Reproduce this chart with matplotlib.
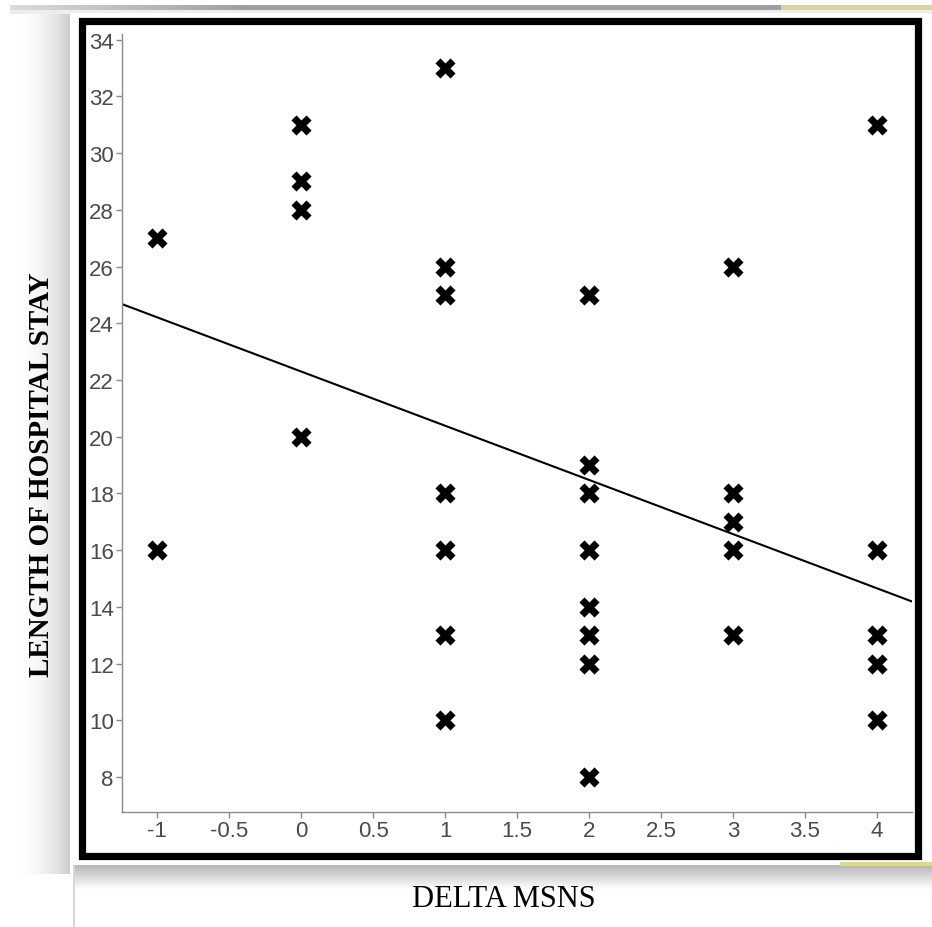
# scatter of hospital stay vs delta MSNS, with fitted trend line

import numpy as np
import matplotlib
matplotlib.use("Agg")
import matplotlib.pyplot as plt
from matplotlib.patches import Rectangle


# data
delta_msns = [-1, -1,
              0, 0, 0, 0,
              1, 1, 1, 1, 1, 1, 1,
              2, 2, 2, 2, 2, 2, 2, 2,
              3, 3, 3, 3, 3,
              4, 4, 4, 4, 4]
stay_days = [27, 16,
             31, 29, 28, 20,
             33, 26, 25, 18, 16, 13, 10,
             25, 19, 18, 16, 14, 13, 12, 8,
             26, 18, 17, 16, 13,
             31, 16, 13, 12, 10]
# trend line as drawn in the picture (slightly steeper than a plain OLS on the points above)
fit_slope = -1.91
fit_intercept = 22.30
x_ticks = [-1, -0.5, 0, 0.5, 1, 1.5, 2, 2.5, 3, 3.5, 4]
x_ticklabels = ["-1", "-0.5", "0", "0.5", "1", "1.5", "2", "2.5", "3", "3.5", "4"]
y_ticks = list(range(8, 35, 2))

W, H = 932, 928
fig = plt.figure(figsize=(W/100, H/100), dpi=100)

#########################################################
# page background: shadows around the framed plot
bg = np.ones((H, W, 3))
cols = np.arange(W)
# left shadow
ramp = np.clip((cols - 15) / 55.0, 0, 1) ** 2
for c in range(15, 70):
    bg[12:875, c, :] = 1 - 0.2 * ramp[c]
# top grey bar, yellowish on the right
for c in range(10, W):
    shade = 0.62 + 0.25 * max(0, 1 - c / 250.0)
    if c > 780:
        bg[6:11, c, :] = [0.84, 0.84, 0.6]
    else:
        bg[6:11, c, :] = shade
bg[11:15, 10:, :] = 0.93
# white panel behind the frame
bg[14:866, 70:926, :] = 1.0
# shadow under the frame
for r in range(866, 890):
    bg[r, 74:, :] = 0.72 + 0.28 * (r - 866) / 24.0
bg[866:, 73:75, :] = 0.85
bg[863:867, 840:, :] = [0.86, 0.86, 0.5]

ax_bg = fig.add_axes([0, 0, 1, 1])
ax_bg.imshow(bg, extent=(0, W, H, 0), aspect="auto", interpolation="bilinear")
ax_bg.set_xlim(0, W)
ax_bg.set_ylim(H, 0)
ax_bg.axis("off")
ax_bg.add_patch(Rectangle((82, 21.5), 918 - 82, 857 - 21.5,
                          fill=False, ec="black", lw=5.2))

#########################################################
# the scatter plot itself
ax = fig.add_axes([122/W, 1 - 813/H, (912 - 122)/W, (813 - 35)/H])
ax.set_facecolor("none")
ax.scatter(delta_msns, stay_days, marker="X", s=210, c="black",
           linewidths=0, zorder=3)

# trend line across the whole x range
xl = np.array([-1.245, 4.245])
ax.plot(xl, fit_intercept + fit_slope*xl, color="black", lw=1.5, zorder=2)

ax.set_xlim(-1.245, 4.245)
ax.set_ylim(6.77, 34.2)
ax.set_xticks(x_ticks)
ax.set_xticklabels(x_ticklabels)
ax.set_yticks(y_ticks)
for s in ["top", "right"]:
    ax.spines[s].set_visible(False)
for s in ["left", "bottom"]:
    ax.spines[s].set_color("#8a8a8a")
    ax.spines[s].set_linewidth(1.0)
ax.tick_params(colors="#8a8a8a", labelcolor="#4a4a4a", length=4, width=1,
               labelsize=16, pad=2)
for lab in ax.get_xticklabels() + ax.get_yticklabels():
    lab.set_family(["Liberation Sans Narrow", "Liberation Sans", "DejaVu Sans"])

# axis titles sit outside the frame
fig.text(42/W, 1 - 475/H, "LENGTH OF HOSPITAL STAY", rotation=90,
         ha="center", va="center", fontsize=21, fontweight="bold",
         family=["Liberation Serif", "DejaVu Serif"], color="black")
fig.text(504/W, 1 - 900/H, "DELTA MSNS", ha="center", va="center",
         fontsize=22, family=["Liberation Serif", "DejaVu Serif"], color="black")

fig.savefig("out.png", dpi=100)
